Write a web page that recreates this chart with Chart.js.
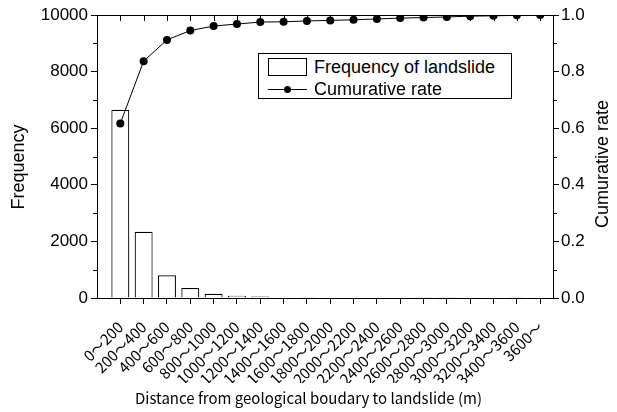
<!DOCTYPE html>
<html>
<head>
<meta charset="utf-8">
<script src="https://cdn.jsdelivr.net/npm/chart.js@4.4.0/dist/chart.umd.min.js"></script>
<style>
body { margin: 0; background: #fff; }
#wrap { position: relative; width: 617px; height: 412px; }
#legend { position: absolute; left: 258px; top: 53px; width: 252px; height: 44px; border: 1px solid #000; background: #fff; font: 18px 'Liberation Sans', Arial, sans-serif; color: #000; }
.row { position: absolute; left: 9px; height: 20px; display: flex; align-items: center; white-space: nowrap; }
.box { width: 37px; height: 16px; border: 1px solid #000; background: #fff; margin-right: 7px; }
.sym { position: relative; width: 39px; height: 20px; margin-right: 7px; }
.sym .ln { position: absolute; left: 0; right: 0; top: 10px; border-top: 1px solid #000; }
.sym .dot { position: absolute; left: 16px; top: 7px; width: 7px; height: 7px; border-radius: 50%; background: #000; }
.ytitle { position: absolute; width: 200px; height: 22px; line-height: 22px; text-align: center; font: 18px 'Liberation Sans', Arial, sans-serif; color: #000; transform: rotate(-90deg); white-space: nowrap; }
</style>
</head>
<body>
<div id="wrap">
    <canvas id="chart" width="617" height="412"></canvas>
    <div id="legend">
        <div class="row" style="top:3px"><div class="box"></div><span id="lab1"></span></div>
        <div class="row" style="top:25px"><div class="sym"><div class="ln"></div><div class="dot"></div></div><span id="lab2"></span></div>
    </div>
    <div class="ytitle" id="yTitleLeft" style="left:-81px; top:156px;"></div>
    <div class="ytitle" id="yTitleRight" style="left:503px; top:153px;"></div>
</div>
<script>
const categories = ['0～200', '200～400', '400～600', '600～800', '800～1000', '1000～1200', '1200～1400',
    '1400～1600', '1600～1800', '1800～2000', '2000～2200', '2200～2400', '2400～2600', '2600～2800',
    '2800～3000', '3000～3200', '3200～3400', '3400～3600', '3600～'];
const frequency = [6650, 2340, 800, 350, 150, 80, 55, 20, 10, 20, 20, 20, 20, 10, 10, 30, 15, 10, 5];
const cumulativeRate = [0.617, 0.837, 0.912, 0.945, 0.961, 0.968, 0.975, 0.976, 0.979, 0.981,
    0.983, 0.986, 0.989, 0.991, 0.993, 0.996, 0.997, 0.999, 1.0];
const freqTicks = [0, 2000, 4000, 6000, 8000, 10000];
const rateTicks = [0, 0.2, 0.4, 0.6, 0.8, 1.0];

const seriesNames = ['Frequency of landslide', 'Cumurative rate'];
const axisTitles = ['Frequency', 'Cumurative rate', 'Distance from geological boudary to landslide (m)'];
document.getElementById('lab1').textContent = seriesNames[0];
document.getElementById('lab2').textContent = seriesNames[1];
document.getElementById('yTitleLeft').textContent = axisTitles[0];
document.getElementById('yTitleRight').textContent = axisTitles[1];

const tickFont = { family: "'Liberation Sans', Arial, sans-serif", size: 17 };
const jpFont = "'Noto Sans CJK JP', sans-serif";

// top frame line, inward top ticks and minor ticks on both y axes
const framePlugin = {
    id: 'frame',
    afterDraw(chart) {
        const { ctx, chartArea: a, scales } = chart;
        ctx.save();
        ctx.strokeStyle = '#000';
        ctx.lineWidth = 1;
        ctx.beginPath();
        ctx.moveTo(a.left, a.top + 0.5);
        ctx.lineTo(a.right, a.top + 0.5);
        categories.forEach((_, i) => {
            const x = Math.round(scales.x.getPixelForValue(i + 1)) + 0.5;
            ctx.moveTo(x, a.top);
            ctx.lineTo(x, a.top + 6);
        });
        for (let v = 1000; v < 10000; v += 2000) {
            const y = Math.round(scales.y.getPixelForValue(v)) + 0.5;
            ctx.moveTo(a.left - 4, y);
            ctx.lineTo(a.left, y);
        }
        for (let v = 0.1; v < 1; v += 0.2) {
            const y = Math.round(scales.y1.getPixelForValue(v)) + 0.5;
            ctx.moveTo(a.right, y);
            ctx.lineTo(a.right + 4, y);
        }
        ctx.stroke();
        ctx.restore();
    }
};

new Chart(document.getElementById('chart'), {
    type: 'bar',
    data: {
        datasets: [
            {
                type: 'line',
                label: seriesNames[1],
                data: cumulativeRate.map((v, i) => ({ x: i + 1, y: v })),
                yAxisID: 'y1',
                borderColor: '#000',
                borderWidth: 1,
                pointRadius: 4,
                pointBackgroundColor: '#000',
                pointBorderColor: '#000',
                pointBorderWidth: 0,
                tension: 0,
                clip: 0,
                order: 0
            },
            {
                label: seriesNames[0],
                data: frequency.map((v, i) => ({ x: i + 1, y: v })),
                yAxisID: 'y',
                backgroundColor: '#fff',
                borderColor: '#000',
                borderWidth: 1.2,
                barPercentage: 0.77,
                categoryPercentage: 1,
                order: 1
            }
        ]
    },
    options: {
        responsive: false,
        animation: false,
        devicePixelRatio: 1,
        layout: { padding: { top: 15, left: 0, right: 0, bottom: 0 } },
        plugins: {
            legend: { display: false },
            tooltip: { enabled: false },
            title: {
                display: true,
                position: 'bottom',
                text: axisTitles[2],
                color: '#000',
                font: { family: jpFont, size: 15, weight: 'normal' },
                padding: { top: 6, bottom: 5 }
            }
        },
        scales: {
            x: {
                type: 'linear',
                offset: false,
                min: 0,
                max: 19.55,
                afterBuildTicks: s => { s.ticks = categories.map((_, i) => ({ value: i + 1 })); },
                afterFit: s => { s.height = 85; },
                ticks: {
                    autoSkip: false,
                    minRotation: 45,
                    maxRotation: 45,
                    padding: 14,
                    color: '#000',
                    font: { family: jpFont, size: 15 },
                    callback: v => categories[v - 1]
                },
                grid: { offset: false, drawOnChartArea: false, tickLength: 6, color: '#000', tickColor: '#000' },
                border: { color: '#000', width: 1 }
            },
            y: {
                position: 'left',
                min: 0,
                max: 10000,
                afterBuildTicks: s => { s.ticks = freqTicks.map(v => ({ value: v })); },
                afterFit: s => { s.width = 97; },
                ticks: { color: '#000', font: tickFont, padding: 3, callback: v => String(v) },
                grid: { drawOnChartArea: false, tickLength: 6, color: '#000', tickColor: '#000' },
                border: { color: '#000', width: 1 }
            },
            y1: {
                position: 'right',
                min: 0,
                max: 1,
                afterBuildTicks: s => { s.ticks = rateTicks.map(v => ({ value: v })); },
                afterFit: s => { s.width = 64; },
                ticks: { color: '#000', font: tickFont, padding: 2, callback: v => v.toFixed(1) },
                grid: { drawOnChartArea: false, tickLength: 6, color: '#000', tickColor: '#000' },
                border: { color: '#000', width: 1 }
            }
        }
    },
    plugins: [framePlugin]
});
</script>
</body>
</html>
